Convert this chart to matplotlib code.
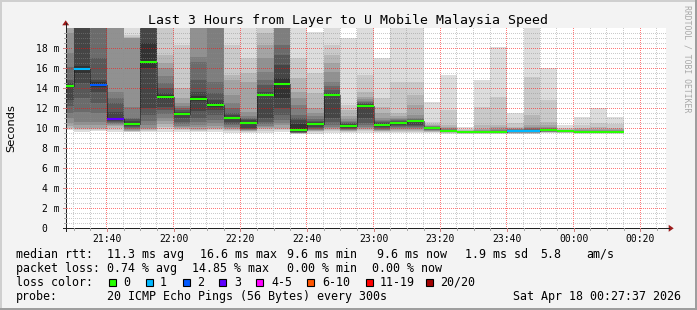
import numpy as np
import pandas as pd
import matplotlib
matplotlib.use("Agg")
import matplotlib.pyplot as plt
from matplotlib.lines import Line2D
from matplotlib.patches import Polygon, Rectangle

# ---------------- data (ms) ----------------
# 5-minute slots (end time of each slot); first slot is partially visible
slot_end = pd.date_range("2026-04-17 21:30", "2026-04-18 00:15", freq="5min")

median = [14.2, 15.9, 14.3, 10.9, 10.4, 16.6, 13.1, 11.4, 12.9, 12.3, 11.0, 10.5,
          13.3, 14.4, 9.8, 10.4, 13.3, 10.2, 12.2, 10.3, 10.5, 10.7, 10.0, 9.7,
          9.6, 9.65, 9.65, 9.7, 9.7, 9.8, 9.7, 9.6, 9.6, 9.6]
loss = [0, 1, 2, 3, 0, 0, 0, 0, 0, 0, 0, 0, 0, 0, 0, 0, 0, 0, 0, 0, 0, 0, 0, 0,
        0, 0, 0, 1, 1, 0, 0, 0, 0, 0]

# sorted ping rtts per slot (ping01 = fastest ... ping20 = slowest); 25 = off scale
ping01 = [9.8, 9.6, 9.7, 9.6, 9.6, 9.6, 9.6, 9.6, 9.6, 9.6, 9.5, 9.5, 9.5, 9.6, 9.4, 9.4, 9.5,
          9.5, 9.5, 9.5, 9.5, 9.5, 9.5, 9.4, 9.4, 9.4, 9.4, 9.4, 9.4, 9.5, 9.5, 9.45, 9.45, 9.45]
ping02 = [9.9, 9.8, 9.8, 9.8, 9.65, 9.7, 9.9, 9.8, 9.7, 9.8, 9.7, 9.6, 9.7, 9.8, 9.45, 9.6, 9.7,
          9.6, 9.7, 9.6, 9.6, 9.6, 9.6, 9.5, 9.45, 9.45, 9.45, 9.45, 9.45, 9.55, 9.55, 9.5, 9.5, 9.5]
ping03 = [10.0, 9.9, 9.9, 10.0, 9.7, 9.8, 10.1, 9.9, 9.8, 9.9, 9.8, 9.7, 9.9, 9.9, 9.5, 9.7, 9.8,
          9.7, 9.8, 9.7, 9.7, 9.7, 9.65, 9.55, 9.5, 9.5, 9.5, 9.5, 9.5, 9.6, 9.58, 9.52, 9.52, 9.52]
ping04 = [10.2, 10.0, 10.0, 10.2, 9.75, 9.9, 10.4, 10.0, 9.9, 10.0, 9.9, 9.75, 10.0, 10.0, 9.52, 9.75, 9.9,
          9.75, 9.9, 9.75, 9.8, 9.8, 9.7, 9.6, 9.52, 9.52, 9.52, 9.55, 9.55, 9.62, 9.6, 9.54, 9.54, 9.54]
ping05 = [10.5, 10.3, 10.3, 10.3, 9.8, 10.0, 10.7, 10.1, 10.1, 10.2, 10.0, 9.8, 10.1, 10.3, 9.54, 9.8, 10.0,
          9.8, 10.0, 9.8, 9.9, 9.9, 9.75, 9.62, 9.54, 9.54, 9.54, 9.58, 9.58, 9.65, 9.62, 9.56, 9.56, 9.56]
ping06 = [11.0, 10.6, 10.6, 10.4, 9.9, 10.3, 11.0, 10.2, 10.3, 10.5, 10.1, 9.85, 10.2, 10.5, 9.56, 9.85, 10.1,
          9.85, 10.1, 9.85, 10.0, 10.0, 9.8, 9.64, 9.56, 9.56, 9.56, 9.6, 9.6, 9.68, 9.64, 9.57, 9.57, 9.57]
ping07 = [11.5, 11.6, 11.5, 10.5, 10.0, 10.7, 11.4, 10.4, 10.6, 10.8, 10.3, 9.9, 10.4, 10.8, 9.58, 9.9, 10.3,
          9.9, 10.3, 9.9, 10.1, 10.1, 9.85, 9.66, 9.57, 9.57, 9.57, 9.62, 9.62, 9.7, 9.66, 9.58, 9.58, 9.58]
ping08 = [12.2, 13.0, 12.5, 10.6, 10.1, 11.3, 11.8, 10.6, 11.0, 11.3, 10.4, 9.95, 10.6, 11.3, 9.59, 10.0, 10.6,
          9.95, 10.5, 10.0, 10.2, 10.2, 9.9, 9.68, 9.58, 9.58, 9.58, 9.64, 9.64, 9.72, 9.68, 9.59, 9.59, 9.59]
ping09 = [12.8, 14.5, 13.6, 10.7, 10.2, 12.0, 12.1, 11.0, 11.7, 11.8, 10.6, 10.0, 11.0, 12.0, 9.6, 10.1, 11.0,
          10.0, 11.0, 10.1, 10.3, 10.3, 9.95, 9.69, 9.59, 9.59, 9.59, 9.66, 9.66, 9.75, 9.69, 9.6, 9.6, 9.6]
ping10 = [14.1, 15.5, 14.1, 10.8, 10.3, 16.0, 12.9, 11.3, 12.7, 12.1, 10.9, 10.4, 13.2, 13.0, 9.7, 10.3, 13.2,
          10.1, 12.1, 10.2, 10.45, 10.65, 9.98, 9.7, 9.6, 9.6, 9.6, 9.68, 9.68, 9.78, 9.7, 9.6, 9.6, 9.6]
ping11 = [14.3, 16.2, 14.6, 11.0, 10.5, 18.5, 13.3, 11.5, 13.2, 12.5, 11.1, 10.6, 13.4, 15.0, 10.4, 10.5, 13.4,
          10.3, 12.3, 10.4, 10.55, 10.75, 10.02, 9.72, 9.61, 9.62, 9.62, 9.72, 9.72, 9.82, 9.71, 9.62, 9.62, 9.62]
ping12 = [14.5, 25, 14.8, 11.6, 10.7, 25, 13.5, 11.6, 13.6, 12.8, 11.3, 10.8, 13.6, 16.3, 10.8, 10.6, 13.5,
          10.4, 12.4, 10.5, 10.6, 10.8, 10.05, 9.75, 9.62, 9.64, 9.64, 9.75, 9.76, 9.85, 9.72, 9.64, 9.64, 9.64]
ping13 = [14.8, 25, 17.0, 12.5, 10.9, 25, 14.0, 11.8, 14.8, 13.5, 11.5, 10.9, 14.3, 17.3, 11.0, 10.7, 13.8,
          10.5, 12.5, 10.6, 10.7, 10.85, 10.1, 9.8, 9.64, 9.66, 9.66, 9.8, 9.8, 9.9, 9.74, 9.66, 9.66, 9.66]
ping14 = [16.1, 25, 25, 13.0, 11.0, 25, 14.5, 12.0, 16.6, 14.6, 12.0, 11.0, 14.8, 18.3, 11.3, 10.9, 14.2,
          10.6, 12.6, 10.7, 10.8, 10.9, 10.15, 9.85, 9.66, 9.7, 9.7, 9.85, 9.9, 9.95, 9.76, 9.7, 9.7, 9.7]
ping15 = [17.5, 25, 25, 13.6, 12.1, 25, 15.2, 12.2, 17.1, 25, 12.5, 11.2, 15.6, 25, 12.3, 11.2, 14.6,
          10.7, 12.7, 10.8, 10.9, 11.0, 10.2, 9.9, 9.68, 9.75, 9.8, 9.9, 10.0, 10.0, 9.78, 9.75, 9.75, 9.75]
ping16 = [19.5, 25, 25, 25, 19.0, 25, 16.0, 12.5, 25, 25, 13.3, 11.6, 17.0, 25, 13.0, 11.5, 15.6,
          10.9, 12.9, 11.0, 11.0, 11.3, 10.25, 10.0, 9.7, 9.8, 9.9, 9.95, 10.1, 10.1, 9.8, 9.8, 9.8, 9.8]
ping17 = [25, 25, 25, 25, 19.0, 25, 16.5, 13.0, 25, 25, 14.8, 14.6, 18.3, 25, 13.6, 12.0, 16.5,
          11.2, 13.1, 11.5, 11.2, 12.3, 10.3, 10.1, 9.75, 9.9, 10.1, 10.0, 10.3, 10.3, 9.85, 9.9, 9.9, 9.9]
ping18 = [25, 25, 25, 25, 19.1, 25, 17.3, 14.0, 25, 25, 15.3, 15.5, 19.5, 25, 15.0, 13.5, 17.3,
          11.8, 13.6, 12.1, 11.5, 13.3, 10.4, 10.3, 9.8, 10.3, 10.3, 10.1, 11.3, 10.6, 9.9, 10.0, 10.1, 10.0]
ping19 = [25, 25, 25, 25, 19.3, 25, 25, 18.3, 25, 25, 18.3, 17.0, 25, 25, 17.0, 15.5, 18.3,
          12.3, 15.3, 13.0, 14.6, 14.6, 10.6, 11.8, 9.9, 12.1, 13.1, 10.5, 15.1, 12.8, 10.0, 10.3, 10.5, 10.4]
ping20 = [25, 25, 25, 25, 25, 25, 25, 25, 25, 25, 25, 25, 25, 25, 25, 19.6, 25,
          19.0, 25, 17.0, 25, 25, 12.6, 15.3, 10.1, 14.8, 18.1, 11.5, 25, 16.0, 10.3, 11.1, 12.0, 11.1]

y_labels = ["0", "2 m", "4 m", "6 m", "8 m", "10 m", "12 m", "14 m", "16 m", "18 m"]
time_labels = ["21:40", "22:00", "22:20", "22:40", "23:00", "23:20", "23:40", "00:00", "00:20"]

loss_names = ["0", "1", "2", "3", "4-5", "6-10", "11-19", "20/20"]
loss_colors = ["#26ff00", "#00b8ff", "#0059ff", "#5e00ff", "#ff00ff", "#ff5500", "#ff0000", "#a00000"]

title = "Last 3 Hours from Layer to U Mobile Malaysia Speed"
rtt_stats = ["11.3 ms avg", "16.6 ms max", "9.6 ms min", "9.6 ms now", "1.9 ms sd", "5.8", "am/s"]
loss_stats = ["0.74 % avg", "14.85 % max", "0.00 % min", "0.00 % now"]
probe_text = "20 ICMP Echo Pings (56 Bytes) every 300s"
stamp = "Sat Apr 18 00:27:37 2026"

# ---------------- layout ----------------
W, H = 697, 310
MONO = "DejaVu Sans Mono"
plt.rcParams["font.family"] = [MONO]

fig = plt.figure(figsize=(W / 100, H / 100), dpi=100)
fig.patch.set_facecolor("#f3f3f3")


def fx(x):
    return x / W


def fy(y):
    return 1 - y / H


def pxline(x0, y0, x1, y1, color, lw=1.0, **kw):
    fig.add_artist(Line2D([fx(x0), fx(x1)], [fy(y0), fy(y1)], transform=fig.transFigure,
                          color=color, linewidth=lw * 0.72, **kw))


X0, X1, Y0, Y1 = 65.7, 665.7, 28.3, 228.3
ref = pd.Timestamp("2026-04-17 21:00")
t_end = np.array((slot_end - ref).total_seconds() / 60.0)
t_start = 27 + 37 / 60


def make_axes(z):
    a = fig.add_axes([fx(X0), fy(Y1), (X1 - X0) / W, (Y1 - Y0) / H], zorder=z)
    for s in a.spines.values():
        s.set_visible(False)
    a.set_xticks([])
    a.set_yticks([])
    a.set_xlim(t_start, t_start + 180)
    a.set_ylim(0, 20)
    return a


ax = make_axes(0)
ax.set_facecolor("white")
ax_top = make_axes(2)
ax_top.patch.set_alpha(0)


def ypx(v):
    return Y1 - v * 10.0


def xpx(t):
    return X0 + (t - t_start) * 600.0 / 180.0


# smoke
pings = np.array([ping01, ping02, ping03, ping04, ping05, ping06, ping07, ping08, ping09, ping10,
                  ping11, ping12, ping13, ping14, ping15, ping16, ping17, ping18, ping19, ping20])
x_left = t_end - 5
for i in range(10):
    g = int(190 / 10 * (10 - (i + 1))) + 50
    col = "#%02x%02x%02x" % (g, g, g)
    lo = pings[i]
    hi = pings[19 - i]
    ax.bar(x_left, hi - lo, bottom=lo, width=5, align="edge", color=col,
           linewidth=0, antialiased=False, zorder=1)

# grid: dotted 1px-on/1px-off, semi transparent, drawn over the smoke
grid = np.zeros((H, W, 4))
minor_rgba = np.array([0.55, 0.55, 0.55, 0.45])
major_rgba = np.array([1.0, 0.05, 0.05, 0.55])
xa, xb = int(round(X0)), int(round(X1))
ya, yb = int(round(Y0)), int(round(Y1))


def hgrid(v, rgba):
    r = int(ypx(v))
    for x in range(xa + 1, xb, 2):
        grid[r, x] = rgba


def vgrid(t, rgba):
    c = int(xpx(t))
    for y in range(ya, yb, 2):
        grid[y, c] = rgba


for v in np.arange(0.5, 20, 0.5):
    hgrid(v, major_rgba if abs(v % 2) < 1e-6 else minor_rgba)
for t in np.arange(30, 210, 5):
    vgrid(t, major_rgba if t % 20 == 0 else minor_rgba)
gi = fig.figimage(grid, xo=0, yo=0, origin="upper", interpolation="none", resample=False)
gi.set_zorder(1)

# median
med = np.array(median)
ax_top.step(t_end, med, where="pre", color="#111111", lw=0.72, dashes=(1, 1), zorder=3)
ax_top.hlines(med, x_left, t_end, colors=[loss_colors[l] for l in loss], lw=1.5,
              zorder=4, capstyle="butt")

# axes lines, ticks, arrows
axis_c = "#222222"
pxline(X0, Y1 + 3, X0, Y0 - 5, axis_c, lw=1)
pxline(X0 - 3, Y1, X1 + 3, Y1, axis_c, lw=1)
for v in np.arange(0.5, 20, 0.5):
    major = abs(v % 2) < 1e-6
    pxline(X0 - (3 if major else 2), ypx(v), X0, ypx(v),
           "#d08080" if major else "#a8a8a8", lw=1)
for t in np.arange(30, 210, 5):
    major = t % 20 == 0
    pxline(xpx(t), Y1, xpx(t), Y1 + (3 if major else 2),
           "#d08080" if major else "#a8a8a8", lw=1)
arrow_c = "#9b1c1c"
fig.add_artist(Polygon([[fx(X0 - 3.5), fy(Y0 - 3)], [fx(X0 + 3.5), fy(Y0 - 3)], [fx(X0), fy(Y0 - 8)]],
                       closed=True, transform=fig.transFigure, color=arrow_c, lw=0))
fig.add_artist(Polygon([[fx(X1 + 3), fy(Y1 - 3.5)], [fx(X1 + 3), fy(Y1 + 3.5)], [fx(X1 + 8), fy(Y1)]],
                       closed=True, transform=fig.transFigure, color=arrow_c, lw=0))

# tick labels
TICK_FS = 7.0
for i, lab in enumerate(y_labels):
    v = 2 * i
    xr = 59.3 if lab != "0" else 47.3
    fig.text(fx(xr), fy(ypx(v) + 3.4), lab, ha="right", va="baseline", fontsize=TICK_FS, family=MONO)
for i, lab in enumerate(time_labels):
    t = 40 + 20 * i
    fig.text(fx(xpx(t)), fy(241.7), lab, ha="center", va="baseline", fontsize=TICK_FS, family=MONO)

# title & axis label
fig.text(fx(348), fy(24), title, ha="center", va="baseline", fontsize=9.5, family=MONO)
fig.text(fx(10.8), fy(128), "Seconds", rotation=90, ha="center", va="center",
         fontsize=8.2, family="DejaVu Sans")
fig.text(fx(687.5), fy(5), "RRDTOOL / TOBI OETIKER", rotation=270, ha="center", va="top",
         fontsize=5.9, family=MONO, color="#a8a8a8")

# legend rows
LFS = 8.37
rows_y = [257.7, 271.7, 285.7, 299.9]
fig.text(fx(16), fy(rows_y[0]), "median rtt:", fontsize=LFS, family=MONO, va="baseline")
for s, x in zip(rtt_stats, [107.3, 200, 286.7, 377.3, 465, 540, 586]):
    fig.text(fx(x), fy(rows_y[0]), s, fontsize=LFS, family=MONO, va="baseline")
fig.text(fx(16), fy(rows_y[1]), "packet loss:", fontsize=LFS, family=MONO, va="baseline")
for s, x in zip(loss_stats, [107.3, 192.3, 286.7, 372.3]):
    fig.text(fx(x), fy(rows_y[1]), s, fontsize=LFS, family=MONO, va="baseline")
fig.text(fx(16), fy(rows_y[2]), "loss color:", fontsize=LFS, family=MONO, va="baseline")
box_x = [109, 145.7, 182.7, 219.3, 255.7, 307.3, 365.7, 425.7]
txt_x = [123.3, 160, 196.7, 234.3, 271, 322.3, 380, 440]
for name, c, bx, tx in zip(loss_names, loss_colors, box_x, txt_x):
    fig.add_artist(Rectangle((fx(bx), fy(rows_y[2])), 7 / W, 7 / H, transform=fig.transFigure,
                             facecolor=c, edgecolor="black", lw=0.8))
    fig.text(fx(tx), fy(rows_y[2]), name, fontsize=LFS, family=MONO, va="baseline")
fig.text(fx(16), fy(rows_y[3]), "probe:", fontsize=LFS, family=MONO, va="baseline")
fig.text(fx(107.3), fy(rows_y[3]), probe_text, fontsize=LFS, family=MONO, va="baseline")
fig.text(fx(513.3), fy(rows_y[3]), stamp, fontsize=LFS, family=MONO, va="baseline")

# 3D frame
fig.add_artist(Rectangle((0, fy(2)), 1, 2 / H, transform=fig.transFigure, color="#cfcfcf", lw=0))
fig.add_artist(Rectangle((0, 0), 2 / W, 1, transform=fig.transFigure, color="#cfcfcf", lw=0))
fig.add_artist(Rectangle((0, 0), 1, 2 / H, transform=fig.transFigure, color="#9e9e9e", lw=0))
fig.add_artist(Rectangle((fx(695), 0), 2 / W, 1, transform=fig.transFigure, color="#9e9e9e", lw=0))

fig.savefig("out.png", dpi=100, facecolor=fig.get_facecolor())
